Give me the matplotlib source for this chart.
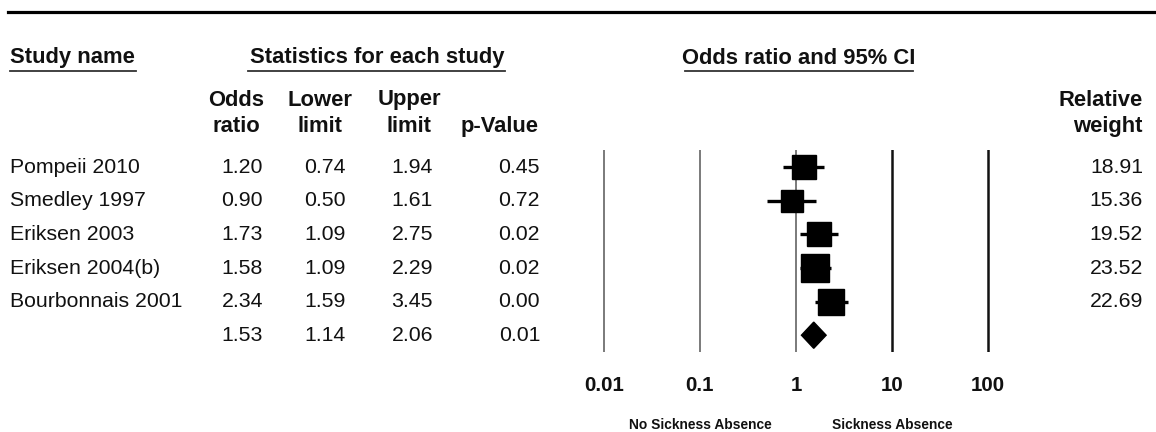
import numpy as np
import matplotlib
matplotlib.use("Agg")
import matplotlib.pyplot as plt
from matplotlib.lines import Line2D
from matplotlib.patches import Polygon
from matplotlib.transforms import blended_transform_factory

plt.rcParams['font.family'] = ['Liberation Sans', 'DejaVu Sans']

# ---------------- data ----------------
studies = ["Pompeii 2010", "Smedley 1997", "Eriksen 2003", "Eriksen 2004(b)", "Bourbonnais 2001"]
odds = [1.20, 0.90, 1.73, 1.58, 2.34]
lower = [0.74, 0.50, 1.09, 1.09, 1.59]
upper = [1.94, 1.61, 2.75, 2.29, 3.45]
pvals = [0.45, 0.72, 0.02, 0.02, 0.00]
weights = [18.91, 15.36, 19.52, 23.52, 22.69]

pooled_or = 1.53
pooled_lo = 1.14
pooled_hi = 2.06
pooled_p = 0.01

ticks = [0.01, 0.1, 1, 10, 100]
tick_labels = ["0.01", "0.1", "1", "10", "100"]
favours = ["No Sickness Absence", "Sickness Absence"]
favours_at = [0.1, 10]

# ---------------- layout (pixels) ----------------
W, H = 1156, 432
def fx(px):
    return px / W
def fy(py):
    return 1 - py / H

fig = plt.figure(figsize=(W / 100, H / 100), dpi=100)

# forest axes: 0.01 at x=604, 100 at x=988 (96 px per decade)
dec = 96.0
left_px = 604 - 0.2 * dec
right_px = 988 + 0.2 * dec
top_px, bot_px = 150.5, 352
ax = fig.add_axes([fx(left_px), fy(bot_px), (right_px - left_px) / W, (bot_px - top_px) / H])
ax.set_xscale("log")
ax.set_xlim(10 ** -2.2, 10 ** 2.2)
nrows = len(studies) + 1
ax.set_ylim(nrows - 0.5, -0.5)
for s in ax.spines.values():
    s.set_visible(False)
ax.set_yticks([])
ax.set_xticks(ticks)
ax.set_xticklabels(tick_labels, fontsize=14.8, fontweight="bold", color="#111111")
ax.minorticks_off()
ax.tick_params(axis="x", length=0, pad=17)

# reference lines
for t in ticks:
    if t <= 1:
        ax.axvline(t, color="#7a7a7a", lw=1.4, zorder=1)
    else:
        ax.axvline(t, color="#111111", lw=1.8, zorder=1)

# study markers
for i in range(len(studies)):
    ax.plot([lower[i], upper[i]], [i, i], color="black", lw=2.4, solid_capstyle="butt", zorder=2)
    ax.plot(odds[i], i, marker="s", color="black", markersize=5.6 * np.sqrt(weights[i]) * 0.72,
            zorder=3)

# pooled diamond
k = len(studies)
hh = 0.39
ax.add_patch(Polygon([[pooled_lo, k], [pooled_or, k - hh], [pooled_hi, k], [pooled_or, k + hh]],
                     closed=True, color="black", zorder=3))

# ---------------- table text ----------------
tr = blended_transform_factory(fig.transFigure, ax.transData)
fs = 15.3
tc = "#111111"
col_or, col_lo, col_hi, col_p, col_w = fx(263), fx(346), fx(433), fx(540), fx(1143)
for i in range(len(studies)):
    ax.text(fx(10), i, studies[i], transform=tr, ha="left", va="center", fontsize=fs, color=tc)
    ax.text(col_or, i, f"{odds[i]:.2f}", transform=tr, ha="right", va="center", fontsize=fs, color=tc)
    ax.text(col_lo, i, f"{lower[i]:.2f}", transform=tr, ha="right", va="center", fontsize=fs, color=tc)
    ax.text(col_hi, i, f"{upper[i]:.2f}", transform=tr, ha="right", va="center", fontsize=fs, color=tc)
    ax.text(col_p, i, f"{pvals[i]:.2f}", transform=tr, ha="right", va="center", fontsize=fs, color=tc)
    ax.text(col_w, i, f"{weights[i]:.2f}", transform=tr, ha="right", va="center", fontsize=fs, color=tc)

ax.text(col_or, k, f"{pooled_or:.2f}", transform=tr, ha="right", va="center", fontsize=fs, color=tc)
ax.text(col_lo, k, f"{pooled_lo:.2f}", transform=tr, ha="right", va="center", fontsize=fs, color=tc)
ax.text(col_hi, k, f"{pooled_hi:.2f}", transform=tr, ha="right", va="center", fontsize=fs, color=tc)
ax.text(col_p, k, f"{pooled_p:.2f}", transform=tr, ha="right", va="center", fontsize=fs, color=tc)

# favours labels under the axis
tr2 = blended_transform_factory(ax.transData, fig.transFigure)
for lab, xv in zip(favours, favours_at):
    ax.text(xv, fy(425), lab, transform=tr2, ha="center", va="center", fontsize=9.9,
            fontweight="bold", color=tc)

# ---------------- headers ----------------
hfs = 15.8
fig.text(fx(10), fy(58), "Study name", ha="left", va="center", fontsize=hfs, fontweight="bold", color=tc)
fig.text(fx(377), fy(58), "Statistics for each study", ha="center", va="center", fontsize=hfs,
         fontweight="bold", color=tc)
fig.text(fx(799), fy(58), "Odds ratio and 95% CI", ha="center", va="center", fontsize=hfs,
         fontweight="bold", color=tc)
for x0, x1, yy in [(10, 136, 70.5), (248, 505, 71), (685, 913, 70.5)]:
    fig.add_artist(Line2D([fx(x0), fx(x1)], [fy(yy), fy(yy)], color="#333333", lw=1.3))

sub = [("Odds", "ratio", 236), ("Lower", "limit", 320), ("Upper", "limit", 409)]
for l1, l2, xc in sub:
    fig.text(fx(xc), fy(100), l1, ha="center", va="center", fontsize=hfs, fontweight="bold", color=tc)
    fig.text(fx(xc), fy(127), l2, ha="center", va="center", fontsize=hfs, fontweight="bold", color=tc)
fig.text(fx(539), fy(127), "p-Value", ha="right", va="center", fontsize=hfs, fontweight="bold", color=tc)
fig.text(col_w, fy(100), "Relative", ha="right", va="center", fontsize=hfs, fontweight="bold", color=tc)
fig.text(col_w, fy(127), "weight", ha="right", va="center", fontsize=hfs, fontweight="bold", color=tc)

# top rule
fig.add_artist(Line2D([fx(8), 1.0], [fy(11.5), fy(11.5)], color="black", lw=2.3))

fig.savefig("out.png", dpi=100)
